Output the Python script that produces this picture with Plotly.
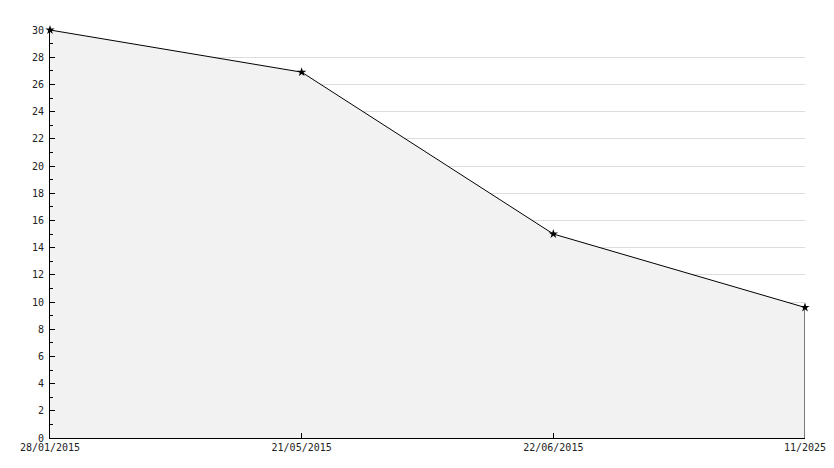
import plotly.graph_objects as go

dates = ["28/01/2015", "21/05/2015", "22/06/2015", "11/2025"]
values = [30, 26.9, 15.0, 9.6]
positions = list(range(len(dates)))

y_ticks = list(range(0, 31, 2))

fig = go.Figure()
fig.add_trace(go.Scatter(
    x=positions, y=values,
    mode="lines+markers",
    fill="tozeroy",
    fillcolor="#f2f2f2",
    line=dict(color="#000000", width=1),
    marker=dict(symbol="star", size=7, color="#000000"),
    cliponaxis=False,
    hoverinfo="skip",
    showlegend=False,
))

# right closing edge of the filled area
fig.add_shape(type="line", xref="x", yref="y",
              x0=positions[-1], x1=positions[-1], y0=0, y1=values[-1],
              line=dict(color="#000000", width=1))

font = dict(family="DejaVu Sans Mono", size=10, color="#222222")

fig.update_layout(
    width=826, height=460,
    margin=dict(l=42, r=29, t=22, b=30, autoexpand=False),
    paper_bgcolor="white", plot_bgcolor="white",
    font=font,
    xaxis=dict(
        range=[positions[0], positions[-1]],
        tickvals=positions, ticktext=dates,
        showgrid=False, zeroline=False,
        showline=True, linecolor="#000000", linewidth=1,
        ticks="inside", ticklen=5, tickcolor="#000000",
        tickfont=font,
    ),
    yaxis=dict(
        range=[0, 30],
        tickvals=y_ticks,
        showgrid=True, gridcolor="#dddddd", gridwidth=1,
        zeroline=False,
        showline=True, linecolor="#000000", linewidth=1,
        ticks="inside", ticklen=5, tickcolor="#000000",
        ticklabelstandoff=3,
        minor=dict(dtick=1, ticks="inside", ticklen=3, tickcolor="#000000", showgrid=False),
        tickfont=font,
    ),
)

fig.write_html("out.html")
